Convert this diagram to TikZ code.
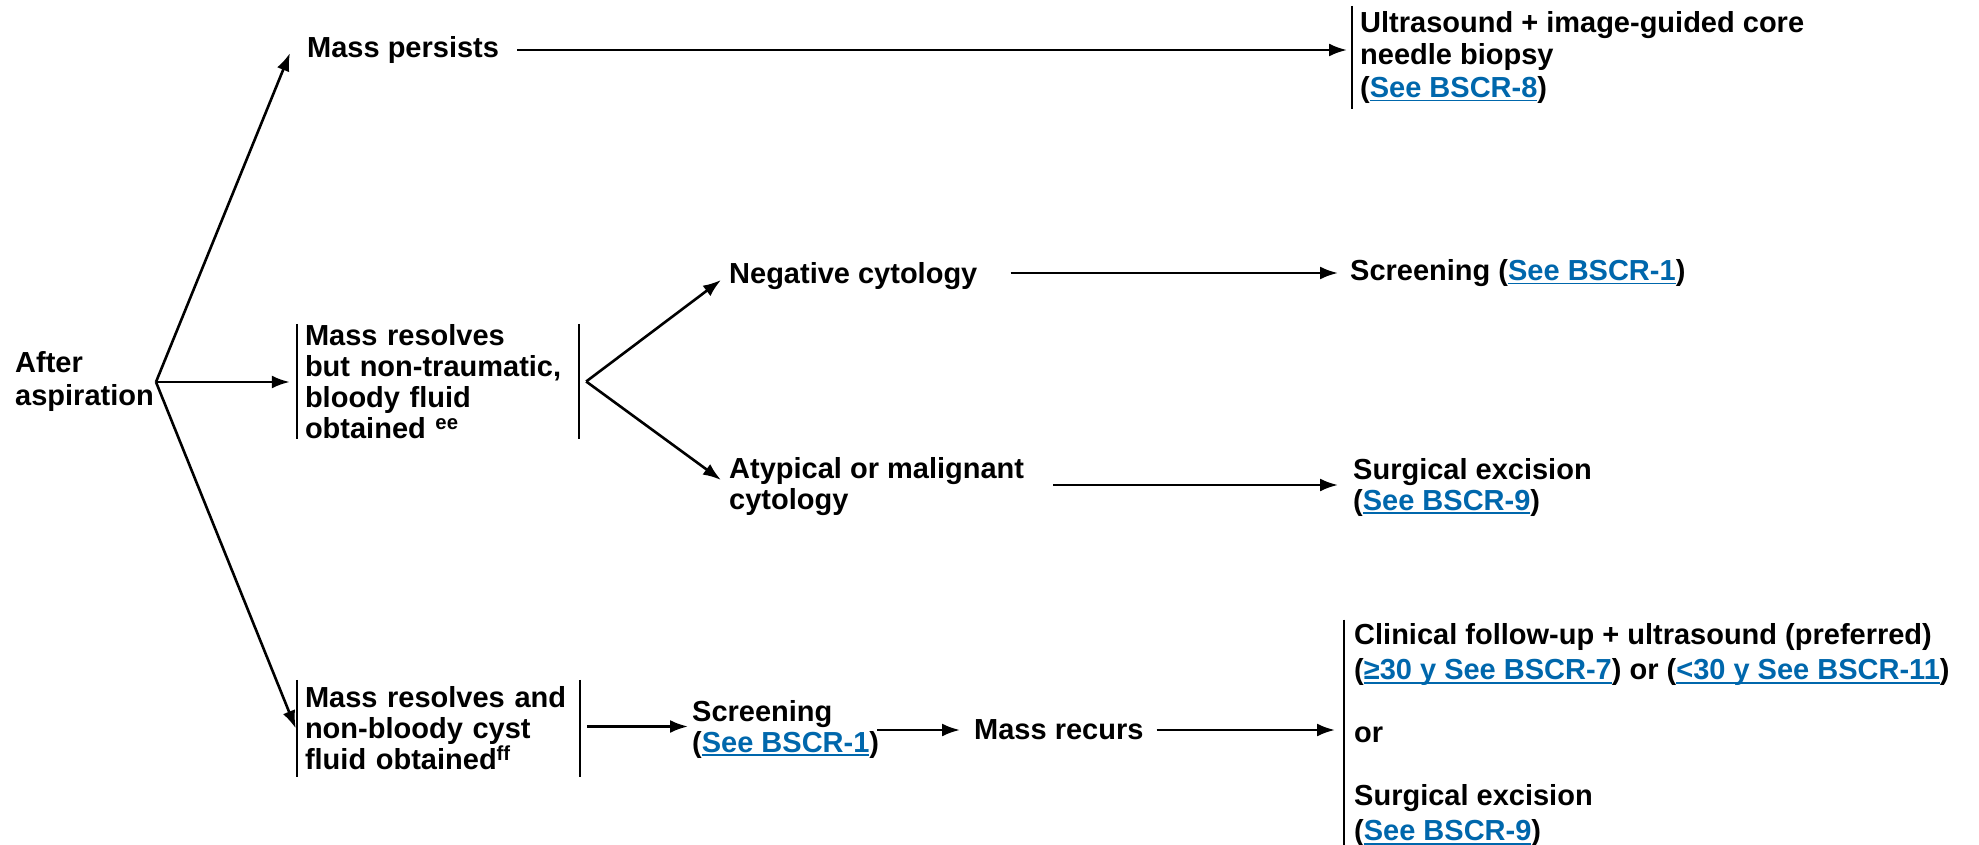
\documentclass[tikz,border=0pt]{standalone}
\usepackage{fontspec}
\setmainfont{Liberation Sans}
\usetikzlibrary{arrows.meta}
\definecolor{linkblue}{RGB}{0,103,172}
% blue link text with a rule at a fixed depth below the baseline
\newcommand{\lnk}[1]{{\color{linkblue}\setbox0\hbox{#1}%
  \rlap{\rule[-4pt]{\wd0}{1.8pt}}\box0}}
\newcommand{\txtfont}[1]{\bfseries\fontsize{29}{#1}\selectfont}

\begin{document}
\begin{tikzpicture}[x=1pt,y=-1pt,
  every node/.style={inner sep=0pt, align=left, font=\txtfont{31}},
  lbl/.style={anchor=west},
  box/.style={inner xsep=8pt, inner ysep=0pt, anchor=center, text width=#1},
  arr/.style={line width=2.6pt, -{Latex[length=18pt,width=13pt]}},
  bar/.style={line width=2.5pt}]
\useasboundingbox (0,0) rectangle (1979,845);

% root
\node[lbl, font=\txtfont{33}] (after) at (15,382) {After\\aspiration};
\coordinate (A) at ([xshift=2pt]after.east);

% top branch
\node[lbl] (persists) at (307,50) {Mass persists};
\node[anchor=west, inner xsep=8pt, minimum height=103pt, font=\txtfont{32.5}] (us) at (1352,57.5)
  {Ultrasound + image-guided core\\needle biopsy\\(\lnk{See BSCR-8})};
\draw[bar] (us.north west) -- (us.south west);

% middle branch
\node[box=266pt, minimum height=115pt] (mrb) at (438,381.5)
  {Mass resolves\\but non-traumatic,\\bloody fluid\\obtained \textsuperscript{ee}};
\draw[bar] (mrb.north west) -- (mrb.south west);
\draw[bar] (mrb.north east) -- (mrb.south east);
\coordinate (B) at ([xshift=7pt]mrb.east);
\node[lbl] (neg) at (729,276) {Negative cytology};
\node[lbl] (scr1) at (1350,273) {Screening (\lnk{See BSCR-1})};
\node[lbl] (atyp) at (729,487) {Atypical or malignant\\cytology};
\node[lbl] (surg1) at (1353,487) {Surgical excision\\(\lnk{See BSCR-9})};

% bottom branch
\node[box=267pt, minimum height=97pt] (mrn) at (438.5,728.5)
  {Mass resolves and\\non-bloody cyst\\fluid obtained\textsuperscript{ff}};
\draw[bar] (mrn.north west) -- (mrn.south west);
\draw[bar] (mrn.north east) -- (mrn.south east);
\coordinate (mrnout) at ([xshift=7pt,yshift=2pt]mrn.east);
\node[lbl] (scr2) at (692,729) {Screening\\(\lnk{See BSCR-1})};
\node[lbl] (recurs) at (974,730) {Mass recurs};
\node[anchor=west, inner xsep=10pt, minimum height=231pt, font=\txtfont{35}] (final) at (1344,735.4)
  {Clinical follow-up + ultrasound (preferred)\\
   (\lnk{≥30 y See BSCR-7}) or (\lnk{<30 y See BSCR-11})\\[28pt]
   or\\[28pt]
   Surgical excision\\
   (\lnk{See BSCR-9})};
\draw[bar] (final.north west) -- (final.south west);

% connectors
\draw[arr] (A) -- ([xshift=-17pt,yshift=-3pt]persists.west);
\draw[arr] (A) -- ([xshift=-7pt]mrb.west |- A);
\draw[arr] (A) -- ([xshift=-1pt]mrn.west);
\draw[arr] ([xshift=18pt]persists.east) -- ([xshift=-5pt]us.west |- persists.east);
\draw[arr] (B) -- ([xshift=-8pt,yshift=-4pt]neg.west);
\draw[arr] (B) -- ([xshift=-8pt,yshift=7pt]atyp.west);
\draw[arr] ([xshift=33pt]neg.east |- scr1.west) -- ([xshift=-12pt]scr1.west);
\draw[arr] ([xshift=29pt,yshift=2pt]atyp.east) -- ([xshift=-15pt,yshift=2pt]surg1.west);
\draw[arr] (mrnout) -- ([xshift=-4pt]scr2.west |- mrnout);
\draw[arr] ([xshift=-2pt]scr2.east |- recurs.east) -- ([xshift=-14pt]recurs.west);
\draw[arr] ([xshift=13pt]recurs.east) -- ([xshift=-9pt]final.west |- recurs.east);
\end{tikzpicture}
\end{document}
